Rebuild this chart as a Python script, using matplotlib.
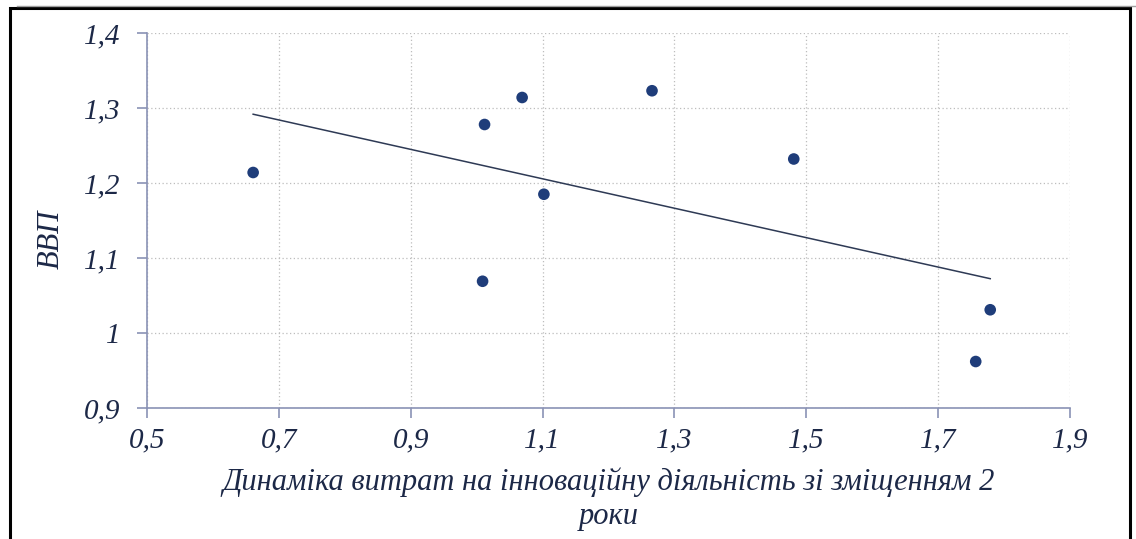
import numpy as np
import matplotlib
matplotlib.use("Agg")
import matplotlib.pyplot as plt
from matplotlib.patches import Rectangle
from matplotlib.lines import Line2D

# --------------- дані ---------------
x_vals = [0.661, 1.009, 1.012, 1.069, 1.102, 1.266, 1.481, 1.757, 1.779]
y_vals = [1.214, 1.069, 1.278, 1.314, 1.185, 1.323, 1.232, 0.962, 1.031]

x_ticks = [0.5, 0.7, 0.9, 1.1, 1.3, 1.5, 1.7, 1.9]
y_ticks = [0.9, 1.0, 1.1, 1.2, 1.3, 1.4]
x_ticklabels = ["0,5", "0,7", "0,9", "1,1", "1,3", "1,5", "1,7", "1,9"]
y_ticklabels = ["0,9", "1", "1,1", "1,2", "1,3", "1,4"]

x_title = "Динаміка витрат на інноваційну діяльність зі зміщенням 2\nроки"
y_title = "ВВП"

text_color = "#1C2847"
axis_color = "#8A92B5"
dot_color = "#1F3D7A"
line_color = "#2E3A55"

plt.rcParams["font.family"] = ["Liberation Serif", "DejaVu Serif"]

fig = plt.figure(figsize=(11.36, 5.39), dpi=100)
ax = fig.add_axes([0.1294, 0.2430, 0.8125, 0.6958])

# лінія тренду
k, b = np.polyfit(x_vals, y_vals, 1)
xs = np.array([min(x_vals), max(x_vals)])
ax.plot(xs, k * xs + b, color=line_color, lw=1.1, zorder=3)

ax.scatter(x_vals, y_vals, s=70, color=dot_color, edgecolors="none", zorder=4)

ax.set_xlim(0.5, 1.9)
ax.set_ylim(0.9, 1.4)
ax.set_xticks(x_ticks)
ax.set_xticklabels(x_ticklabels)
ax.set_yticks(y_ticks)
ax.set_yticklabels(y_ticklabels)

ax.grid(True, linestyle=(0, (1, 2)), color="#BDBDBD", lw=0.9)
ax.set_axisbelow(True)

for s in ["top", "right"]:
    ax.spines[s].set_visible(False)
for s in ["left", "bottom"]:
    ax.spines[s].set_color(axis_color)
    ax.spines[s].set_linewidth(1.2)

ax.tick_params(axis="both", direction="out", color=axis_color, width=1.2,
               length=7, labelcolor=text_color, labelsize=21)
ax.tick_params(axis="y", pad=12)
ax.tick_params(axis="x", pad=7)
for t in ax.get_xticklabels() + ax.get_yticklabels():
    t.set_fontstyle("italic")

ax.set_xlabel(x_title, fontsize=22, style="italic", color=text_color,
              linespacing=1.2, labelpad=10)
ax.set_ylabel(y_title, fontsize=22, style="italic", color=text_color)
ax.yaxis.set_label_coords(-0.088, 0.45)

# рамка
fig.patches.append(Rectangle((10 / 1136, -0.05), 1120 / 1136, 1 - 8 / 539 + 0.05,
                             transform=fig.transFigure, fill=False,
                             edgecolor="black", lw=2.2))
fig.lines.append(Line2D([17 / 1136, 1], [1 - 6 / 539, 1 - 6 / 539],
                        transform=fig.transFigure, color="#A0A0A0", lw=1))

fig.savefig("out.png", dpi=100)
